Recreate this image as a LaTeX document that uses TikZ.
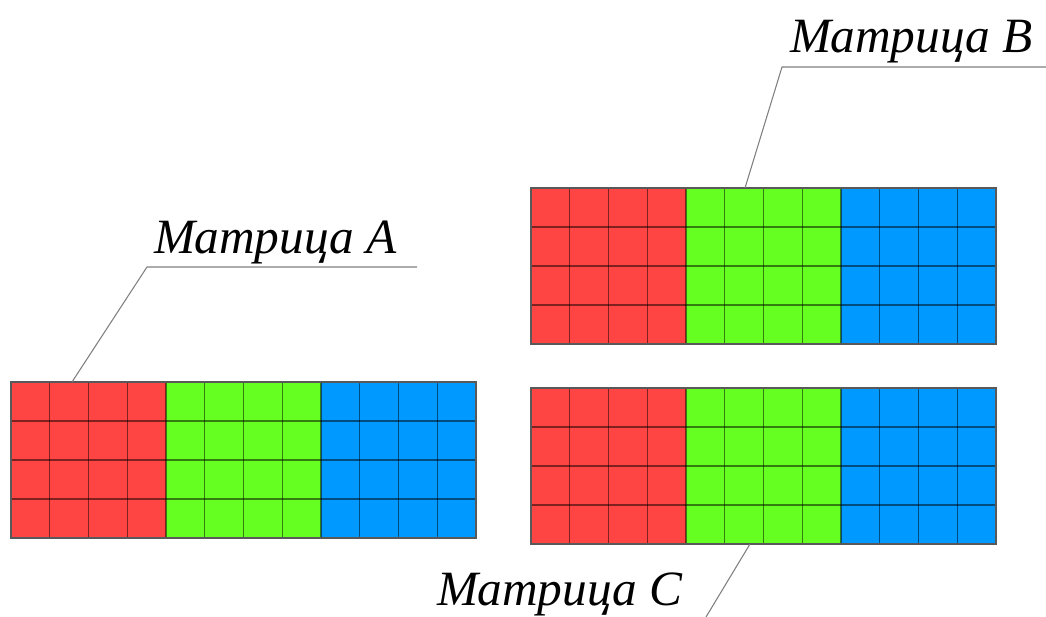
\documentclass[tikz,border=0pt]{standalone}
\usepackage{fontspec}
\setmainfont{Liberation Serif}
\definecolor{redc}{RGB}{255,68,68}
\definecolor{greenc}{RGB}{102,255,34}
\definecolor{bluec}{RGB}{0,153,255}
\tikzset{
  gridline/.style={draw=black, draw opacity=0.5, line width=1pt},
  frame/.style={draw=black!65, line width=1.1pt},
  leader/.style={draw=black!50, line width=0.8pt},
  caption/.style={font=\fontsize{37}{40}\selectfont\itshape, text=black, inner sep=0pt, anchor=base west}
}
% one 4x12 matrix: red, green and blue blocks of 4x4 cells
\newcommand\mblock[3]{%
  \begin{scope}[shift={(#2,#3)}]
    \fill[redc]   (0,0) rectangle (155,156);
    \fill[greenc] (155,0) rectangle (310,156);
    \fill[bluec]  (310,0) rectangle (465,156);
    \foreach \i in {1,...,11} \draw[gridline] ({\i*465/12},0) -- ({\i*465/12},156);
    \foreach \j in {1,2,3} \draw[gridline] (0,{\j*39}) -- (465,{\j*39});
    \draw[frame] (0,0) rectangle (465,156);
    \coordinate (#1) at (0,0);
  \end{scope}}
\begin{document}
\begin{tikzpicture}[x=0.75pt,y=-0.75pt]
\useasboundingbox (0,0) rectangle (1046,617);
\fill[white] (0,0) rectangle (1046,617);

\mblock{matA}{11}{382}
\mblock{matB}{531}{188}
\mblock{matC}{531}{388}

% captions
\node[caption] (labelA) at (154,253) {Матрица A};
\node[caption] (labelB) at (790,53) {Матрица B};
\node[caption] (labelC) at (437,605) {Матрица C};

% leader lines
\coordinate (aTip) at (72,382);
\coordinate (aKnee) at (147,267);
\coordinate (aEnd) at (417,267);
\draw[leader] (aTip) -- (aKnee) -- (aEnd);

\coordinate (bTip) at (745,188);
\coordinate (bKnee) at (782,67);
\coordinate (bEnd) at (1046,67);
\draw[leader] (bTip) -- (bKnee) -- (bEnd);

\coordinate (cTip) at (750,544);
\coordinate (cEnd) at (706,617);
\draw[leader] (cTip) -- (cEnd);
\end{tikzpicture}
\end{document}
